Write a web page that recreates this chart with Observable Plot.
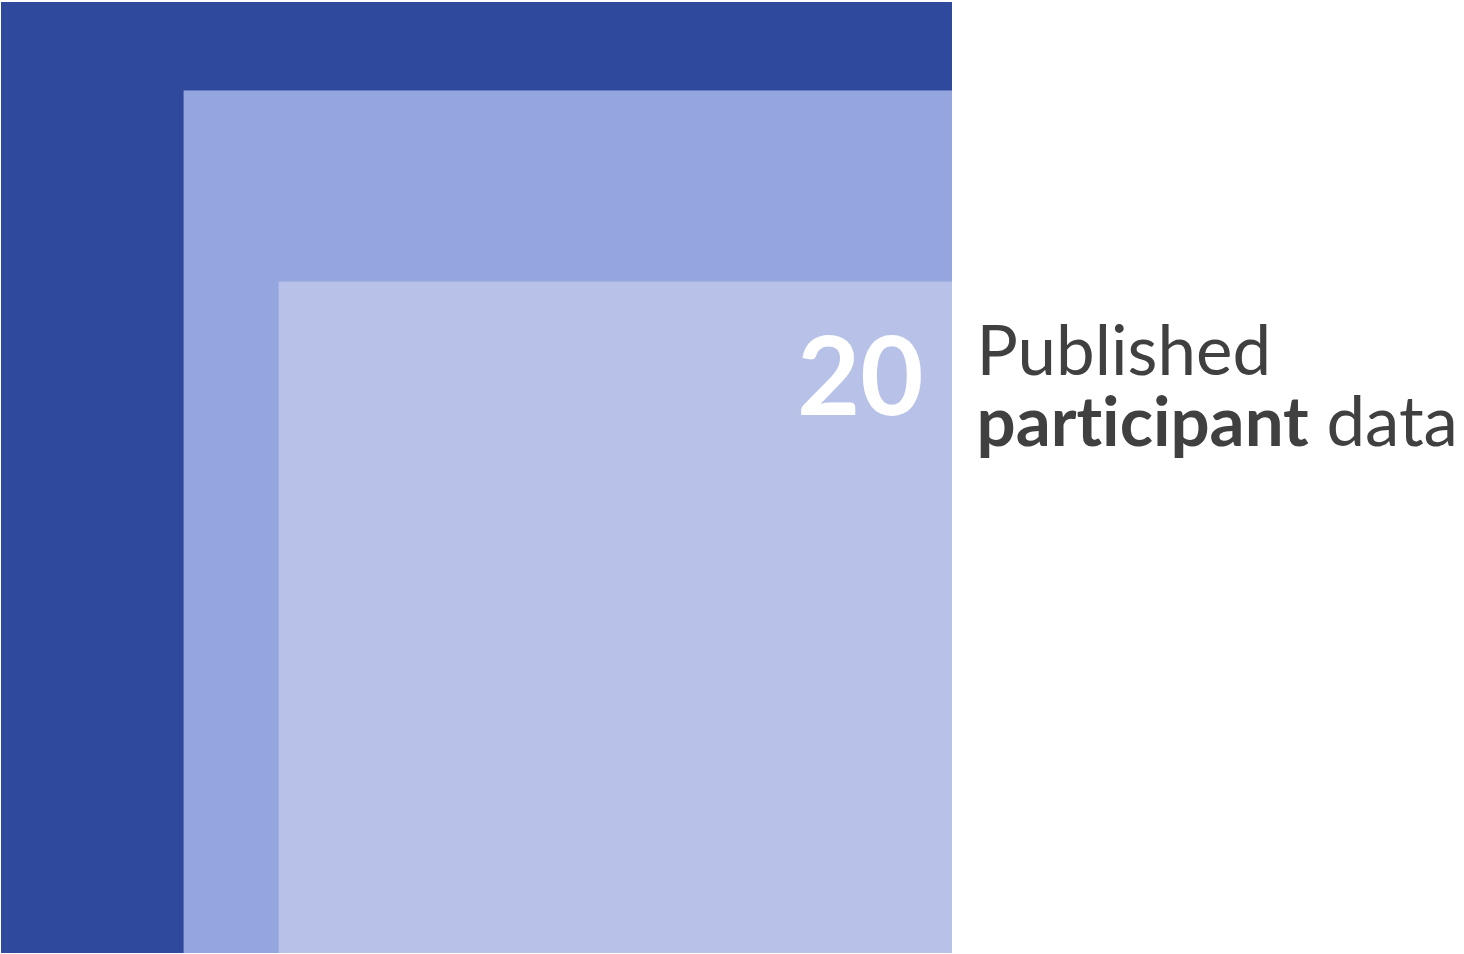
<!DOCTYPE html>
<html>
<head>
<meta charset="utf-8">
<script src="https://cdn.jsdelivr.net/npm/d3@7"></script>
<script src="https://cdn.jsdelivr.net/npm/@observablehq/plot@0.6"></script>
<style>
  html, body { margin: 0; padding: 0; background: #fff; }
  #chart svg { display: block; }
  #chart text { font-variant-ligatures: none; font-feature-settings: "liga" 0; }
</style>
</head>
<body>
<div id="chart"></div>
<script>
// Nested rectangles anchored at the bottom-right corner (outer = 100 units)
const groups  = ["Outer", "Middle", "Published participant data"];
const widths  = [100, 80.8, 70.8];
const heights = [100, 90.7, 70.6];
const colors  = ["#2F4A9D", "#95A6DF", "#B8C2E8"];
const highlightValue = 20;
const labelLine1 = "Published";
const labelBold = "participant";
const labelRest = " data";

const rects = groups.map((g, i) => ({
  group: g, x1: 100 - widths[i], x2: 100, y1: 0, y2: heights[i], color: colors[i]
}));
const inner = rects[rects.length - 1];

const font = "Lato, 'Open Sans', sans-serif";
const labelSize = 69;

const plot = Plot.plot({
  width: 1464,
  height: 954,
  marginTop: 0, marginBottom: 0, marginLeft: 0, marginRight: 0,
  x: { domain: [0, 100], range: [1, 952], axis: null },
  y: { domain: [0, 100], range: [953, 2], axis: null },
  style: { fontFamily: font, background: "#fff" },
  marks: [
    Plot.rect(rects, { x1: "x1", x2: "x2", y1: "y1", y2: "y2", fill: "color" }),
    Plot.text([inner], {
      x: "x2", y: "y2", text: () => String(highlightValue),
      textAnchor: "end", lineAnchor: "bottom", dx: -29, dy: 133,
      fill: "#fff", fontWeight: "bold", fontSize: 109
    }),
    Plot.text([inner], {
      x: "x2", y: "y2", text: () => labelLine1 + "\n" + labelBold + labelRest,
      textAnchor: "start", lineAnchor: "top", dx: 24, dy: 42,
      lineHeight: 71 / labelSize,
      fill: "#404040", fontSize: labelSize,
      className: "side-label"
    })
  ]
});
document.getElementById("chart").appendChild(plot);

// Split the second line into a bold and a regular part
const label = plot.querySelector(".side-label text");
if (label) {
  const spans = label.querySelectorAll("tspan");
  const second = spans[spans.length - 1];
  if (second) {
    second.textContent = "";
    const ns = "http://www.w3.org/2000/svg";
    const b = document.createElementNS(ns, "tspan");
    b.setAttribute("font-weight", "bold");
    b.textContent = labelBold;
    const r = document.createElementNS(ns, "tspan");
    r.textContent = labelRest;
    second.appendChild(b);
    second.appendChild(r);
  }
}
</script>
</body>
</html>
